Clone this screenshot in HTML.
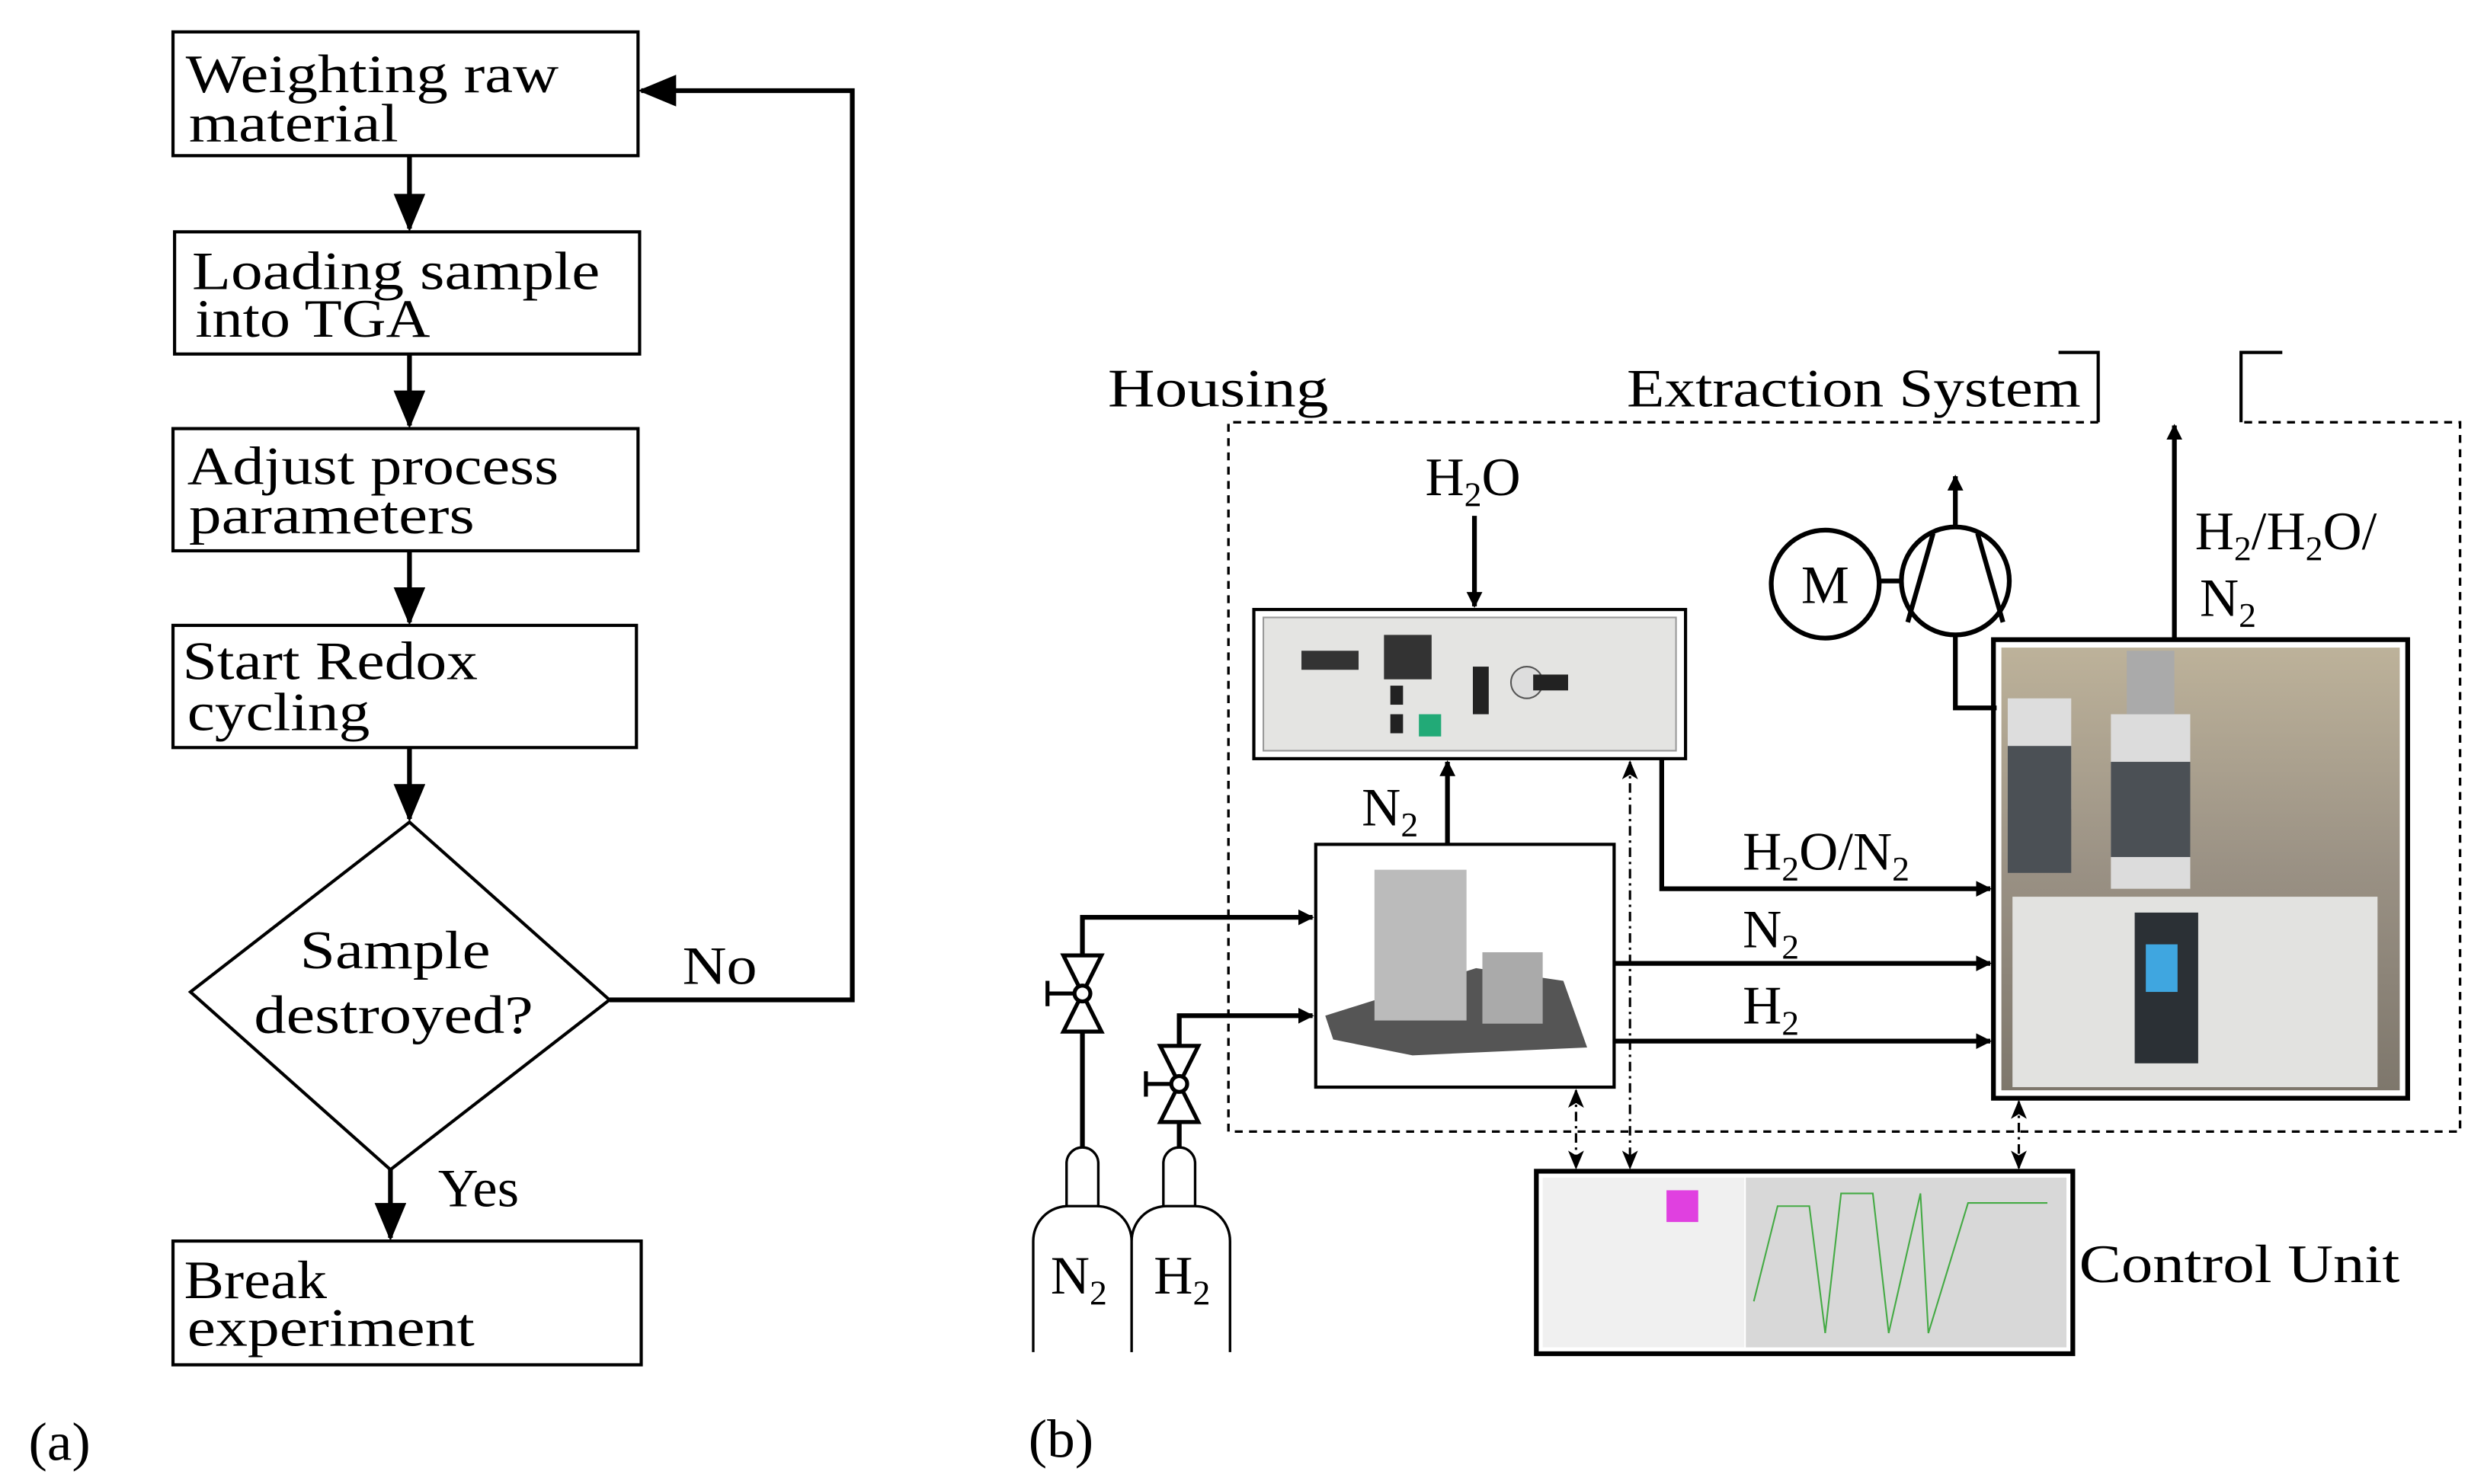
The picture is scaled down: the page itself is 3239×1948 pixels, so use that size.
<!DOCTYPE html>
<html><head><meta charset="utf-8"><style>html,body{margin:0;padding:0;background:#fff}svg{display:block}</style></head>
<body>
<svg width="3239" height="1948" viewBox="0 0 1555 935" xmlns="http://www.w3.org/2000/svg" font-family="Liberation Serif, serif" font-size="34">
<defs>
<marker id="ah" markerWidth="10" markerHeight="10" refX="9" refY="5" orient="auto" markerUnits="userSpaceOnUse"><path d="M0,0 L10,5 L0,10 z" fill="#000"/></marker>
<marker id="ahL" markerWidth="24" markerHeight="20" refX="22" refY="10" orient="auto" markerUnits="userSpaceOnUse"><path d="M0,0 L24,10 L0,20 z" fill="#000"/></marker>
<marker id="ahS" markerWidth="12" markerHeight="10" refX="11" refY="5" orient="auto-start-reverse" markerUnits="userSpaceOnUse"><path d="M0,0 L12,5 L0,10 L3,5 z" fill="#000"/></marker>
<linearGradient id="tga" x1="0" y1="0" x2="0" y2="1"><stop offset="0" stop-color="#bdb29a"/><stop offset="0.5" stop-color="#9a9184"/><stop offset="1" stop-color="#7e776c"/></linearGradient>
</defs>
<g fill="none" stroke="#000" stroke-width="2">
<rect x="109" y="20" width="293" height="78"/>
<rect x="110" y="146" width="293" height="77"/>
<rect x="109" y="270" width="293" height="77"/>
<rect x="109" y="394" width="292" height="77"/>
<rect x="109" y="782" width="295" height="78"/>
<polygon points="258,518 384,630 246,737 120,625"/>
</g>
<g stroke="#000" stroke-width="3" fill="none">
<line x1="258" y1="98" x2="258" y2="144" marker-end="url(#ahL)"/>
<line x1="258" y1="223" x2="258" y2="268" marker-end="url(#ahL)"/>
<line x1="258" y1="347" x2="258" y2="392" marker-end="url(#ahL)"/>
<line x1="258" y1="471" x2="258" y2="516" marker-end="url(#ahL)"/>
<line x1="246" y1="737" x2="246" y2="780" marker-end="url(#ahL)"/>
<polyline points="384,630 537,630 537,57 404,57" marker-end="url(#ahL)"/>
</g>
<!-- housing dashed -->
<g fill="none" stroke="#000" stroke-width="1.6" stroke-dasharray="5,4">
<polyline points="1322,266 774,266 774,713 1550,713 1550,266 1412,266"/>
</g>
<g fill="none" stroke="#000" stroke-width="2">
<polyline points="1297,222 1322,222 1322,266"/>
<polyline points="1438,222 1412,222 1412,266"/>
</g>
<!-- device 1 -->
<rect x="790" y="384" width="272" height="94" fill="#fff" stroke="#000" stroke-width="2"/>
<rect x="796" y="389" width="260" height="84" fill="#e4e4e2" stroke="#999"/>
<rect x="820" y="410" width="36" height="12" fill="#333"/>
<rect x="872" y="400" width="30" height="28" fill="#333"/>
<rect x="876" y="432" width="8" height="12" fill="#222"/>
<rect x="876" y="450" width="8" height="12" fill="#222"/>
<rect x="894" y="450" width="14" height="14" fill="#2a7"/>
<rect x="928" y="420" width="10" height="30" fill="#222"/>
<circle cx="962" cy="430" r="10" fill="#ddd" stroke="#555"/>
<rect x="966" y="425" width="22" height="10" fill="#222"/>
<!-- mass flow -->
<rect x="829" y="532" width="188" height="153" fill="#fff" stroke="#000" stroke-width="2"/>
<polygon points="835,640 930,610 985,618 1000,660 890,665 840,655" fill="#555"/>
<rect x="866" y="548" width="58" height="95" fill="#bbb"/>
<rect x="934" y="600" width="38" height="45" fill="#aaa"/>
<!-- TGA -->
<rect x="1256" y="403" width="261" height="289" fill="#fff" stroke="#000" stroke-width="3"/>
<rect x="1261" y="408" width="251" height="279" fill="url(#tga)"/>
<rect x="1265" y="440" width="40" height="70" fill="#ddd"/>
<rect x="1265" y="470" width="40" height="80" fill="#4b5055"/>
<rect x="1330" y="450" width="50" height="110" fill="#dcdcdc"/>
<rect x="1330" y="480" width="50" height="60" fill="#4b5055"/>
<rect x="1340" y="410" width="30" height="40" fill="#aaa"/>
<rect x="1268" y="565" width="230" height="120" fill="#e2e2e0"/>
<rect x="1345" y="575" width="40" height="95" fill="#2b3035"/>
<rect x="1352" y="595" width="20" height="30" fill="#3fa6e0"/>
<!-- control unit -->
<rect x="968" y="738" width="338" height="115" fill="#fff" stroke="#000" stroke-width="3"/>
<rect x="972" y="742" width="127" height="107" fill="#f0f0f0"/>
<rect x="1050" y="750" width="20" height="20" fill="#e040e0"/>
<rect x="1100" y="742" width="202" height="107" fill="#d8d8d8"/>
<polyline points="1105,820 1120,760 1140,760 1150,840 1160,752 1180,752 1190,840 1210,752 1215,840 1240,758 1290,758" fill="none" stroke="#4a4" stroke-width="1"/>
<!-- motor/compressor -->
<g fill="none" stroke="#000" stroke-width="3">
<circle cx="1150" cy="368" r="34"/>
<circle cx="1232" cy="366" r="34"/>
<line x1="1184" y1="366" x2="1198" y2="366"/>
<line x1="1202" y1="392" x2="1218" y2="336"/><line x1="1262" y1="392" x2="1246" y2="336"/>
<polyline points="1232,400 1232,446 1258,446"/>
<line x1="1232" y1="332" x2="1232" y2="300" marker-end="url(#ah)"/>
<line x1="1370" y1="403" x2="1370" y2="268" marker-end="url(#ah)"/>
<line x1="929" y1="325" x2="929" y2="382" marker-end="url(#ah)"/>
<line x1="912" y1="532" x2="912" y2="480" marker-end="url(#ah)"/>
<polyline points="1047,478 1047,560 1254,560" marker-end="url(#ah)"/>
<line x1="1017" y1="607" x2="1254" y2="607" marker-end="url(#ah)"/>
<line x1="1017" y1="656" x2="1254" y2="656" marker-end="url(#ah)"/>
<polyline points="682,626 682,578 827,578" marker-end="url(#ah)"/>
<polyline points="743,683 743,640 827,640" marker-end="url(#ah)"/>
<line x1="682" y1="650" x2="682" y2="725"/>
<line x1="743" y1="705" x2="743" y2="723"/>
</g>
<!-- valves -->
<g fill="#fff" stroke="#000" stroke-width="2.5">
<polygon points="670,602 694,602 682,626"/><polygon points="670,650 694,650 682,626"/><circle cx="682" cy="626" r="5"/>
<line x1="677" y1="626" x2="660" y2="626"/><line x1="660" y1="618" x2="660" y2="634"/>
<polygon points="731,659 755,659 743,683"/><polygon points="731,707 755,707 743,683"/><circle cx="743" cy="683" r="5"/>
<line x1="738" y1="683" x2="722" y2="683"/><line x1="722" y1="675" x2="722" y2="691"/>
</g>
<!-- bottles -->
<g fill="#fff" stroke="#000" stroke-width="1.6">
<path d="M672,760 V733 a10,10 0 0 1 20,0 V760"/>
<path d="M651,852 V782 a22,22 0 0 1 22,-22 h18 a22,22 0 0 1 22,22 V852"/>
<path d="M733,760 V733 a10,10 0 0 1 20,0 V760"/>
<path d="M713,852 V782 a22,22 0 0 1 22,-22 h18 a22,22 0 0 1 22,22 V852"/>
</g>
<!-- dash-dot links -->
<g fill="none" stroke="#000" stroke-width="1.5" stroke-dasharray="6,3,1.5,3">
<line x1="993" y1="687" x2="993" y2="736" marker-start="url(#ahS)" marker-end="url(#ahS)"/>
<line x1="1027" y1="480" x2="1027" y2="736" marker-start="url(#ahS)" marker-end="url(#ahS)"/>
<line x1="1272" y1="694" x2="1272" y2="736" marker-start="url(#ahS)" marker-end="url(#ahS)"/>
</g>
<g fill="#000">
<text x="117" y="58" textLength="235" lengthAdjust="spacingAndGlyphs">Weighting raw</text><text x="119" y="89" textLength="132" lengthAdjust="spacingAndGlyphs">material</text>
<text x="121" y="182" textLength="257" lengthAdjust="spacingAndGlyphs">Loading sample</text><text x="123" y="212" textLength="148" lengthAdjust="spacingAndGlyphs">into TGA</text>
<text x="118" y="305" textLength="234" lengthAdjust="spacingAndGlyphs">Adjust process</text><text x="119" y="336" textLength="180" lengthAdjust="spacingAndGlyphs">parameters</text>
<text x="115" y="428" textLength="186" lengthAdjust="spacingAndGlyphs">Start Redox</text><text x="118" y="460" textLength="115" lengthAdjust="spacingAndGlyphs">cycling</text>
<text x="189" y="610" textLength="120" lengthAdjust="spacingAndGlyphs">Sample</text><text x="160" y="651" textLength="176" lengthAdjust="spacingAndGlyphs">destroyed?</text>
<text x="430" y="620" textLength="47" lengthAdjust="spacingAndGlyphs">No</text><text x="276" y="760" textLength="51" lengthAdjust="spacingAndGlyphs">Yes</text>
<text x="116" y="818" textLength="90" lengthAdjust="spacingAndGlyphs">Break</text><text x="118" y="848" textLength="181" lengthAdjust="spacingAndGlyphs">experiment</text>
<text x="18" y="920" textLength="39" lengthAdjust="spacingAndGlyphs">(a)</text><text x="648" y="918" textLength="41" lengthAdjust="spacingAndGlyphs">(b)</text>
<text x="698" y="256" textLength="139" lengthAdjust="spacingAndGlyphs">Housing</text>
<text x="1025" y="256" textLength="286" lengthAdjust="spacingAndGlyphs">Extraction System</text>
<text x="898" y="312">H<tspan font-size="22" dy="7">2</tspan><tspan dy="-7">O</tspan></text>
<text x="858" y="520">N<tspan font-size="22" dy="7">2</tspan></text>
<text x="1098" y="548">H<tspan font-size="22" dy="7">2</tspan><tspan dy="-7">O/N</tspan><tspan font-size="22" dy="7">2</tspan></text>
<text x="1098" y="597">N<tspan font-size="22" dy="7">2</tspan></text>
<text x="1098" y="645">H<tspan font-size="22" dy="7">2</tspan></text>
<text x="1383" y="346">H<tspan font-size="22" dy="7">2</tspan><tspan dy="-7">/H</tspan><tspan font-size="22" dy="7">2</tspan><tspan dy="-7">O/</tspan></text>
<text x="1386" y="388">N<tspan font-size="22" dy="7">2</tspan></text>
<text x="1150" y="380" text-anchor="middle">M</text>
<text x="662" y="815">N<tspan font-size="22" dy="7">2</tspan></text>
<text x="727" y="815">H<tspan font-size="22" dy="7">2</tspan></text>
<text x="1310" y="808" textLength="202" lengthAdjust="spacingAndGlyphs">Control Unit</text>
</g>
</svg>
</body></html>
